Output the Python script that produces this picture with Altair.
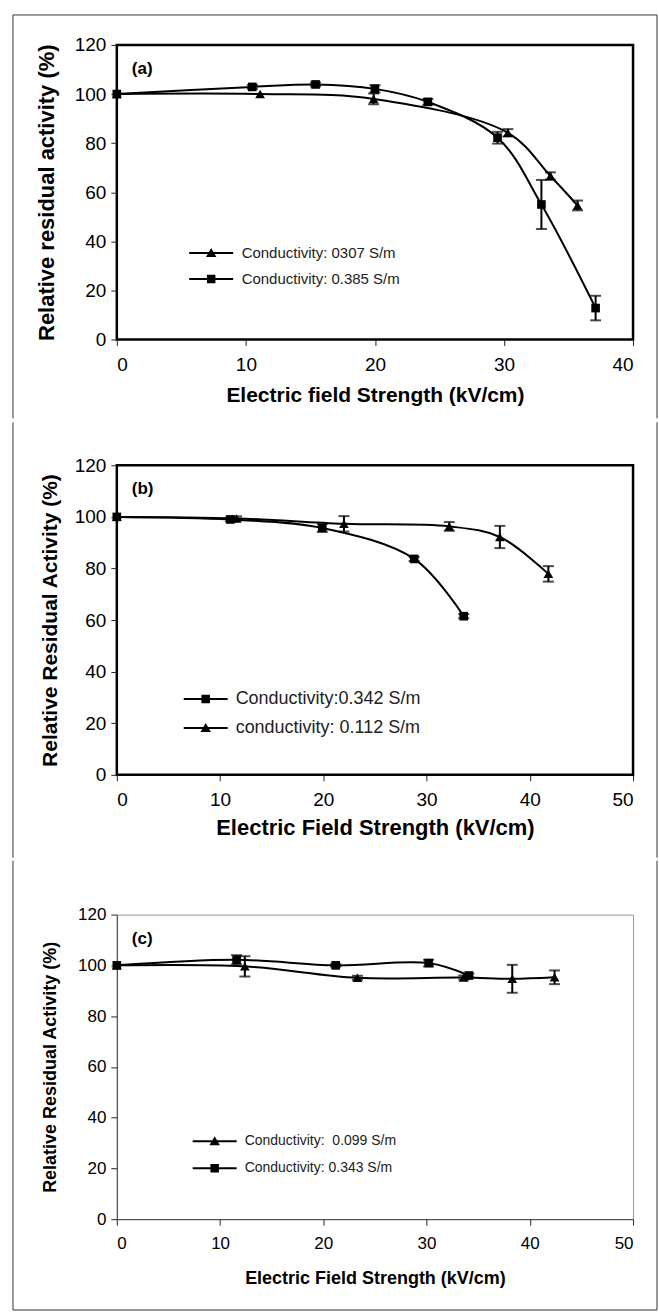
import altair as alt
import pandas as pd

FONT = "Liberation Sans"

# ---------------- data ----------------
# panel (a)
a_labels = ["Conductivity: 0307 S/m", "Conductivity: 0.385 S/m"]
a_tri_x = [0, 11.1, 19.9, 30.3, 33.6, 35.7]
a_tri_y = [100, 100, 98, 84.2, 66.6, 54.6]
a_tri_err = [0, 0, 2.2, 1.5, 1.5, 2]
a_sq_x = [0, 10.5, 15.4, 20, 24.1, 29.5, 32.9, 37.1]
a_sq_y = [100, 102.9, 103.9, 102.1, 96.8, 82.2, 55, 12.8]
a_sq_err = [0, 0.8, 0.8, 1.5, 1.2, 2.4, 10, 5]

# panel (b)
b_labels = ["Conductivity:0.342 S/m", "conductivity: 0.112 S/m"]
b_sq_x = [0, 11, 19.9, 28.8, 33.6]
b_sq_y = [100, 99, 95.7, 83.7, 61.5]
b_sq_err = [0, 0.8, 1.5, 0.8, 0.8]
b_tri_x = [0, 11.6, 22, 32.2, 37.1, 41.8]
b_tri_y = [100, 99.4, 97.3, 96.3, 92.2, 77.9]
b_tri_err = [0, 0.8, 3, 1.7, 4.3, 3]

# panel (c)
c_labels = ["Conductivity: \u00a00.099 S/m", "Conductivity: 0.343 S/m"]
c_tri_x = [0, 12.4, 23.3, 33.6, 38.3, 42.4]
c_tri_y = [100, 99.6, 95.1, 95.2, 94.7, 95.3]
c_tri_err = [0, 4, 0.8, 0.8, 5.5, 2.7]
c_sq_x = [0, 11.6, 21.2, 30.2, 34.1]
c_sq_y = [100, 102.2, 100, 100.9, 96]
c_sq_err = [0, 1.8, 0.5, 1.3, 0.8]

y_ticks = [0, 20, 40, 60, 80, 100, 120]

TRI_PATH = "M-4.4,-0.2H4.4V0.2H-4.4Z M0,-1L1.05,0.8H-1.05Z"
SQ_PATH = "M-4.4,-0.2H4.4V0.2H-4.4Z M-0.85,-0.85H0.85V0.85H-0.85Z"
VSHAPE = {"triangle-up": TRI_PATH, "square": SQ_PATH}


def mkdf(xs, ys, errs, label, shape):
    d = pd.DataFrame({"x": xs, "y": ys, "err": errs})
    d["series"] = label
    d["shape"] = shape
    d["lo"] = d["y"] - d["err"]
    d["hi"] = d["y"] + d["err"]
    return d


def panel(series, xmax, height, xtitle, ytitle, tag, lab_fs, xt_fs, yt_fs,
          x_tpad, y_tpad, x_lpad, legx, legy, leg_fs, leg_row, leg_off, frame, boxed):
    df = pd.concat([mkdf(*s) for s in series], ignore_index=True)
    labels = [s[3] for s in series]
    shapes = [s[4] for s in series]

    ax_common = dict(grid=False, domain=not boxed, domainColor="#444", domainWidth=1,
                     ticks=True, tickSize=6, tickColor="#222", tickWidth=1,
                     labelFont=FONT, labelFontSize=lab_fs, labelColor="black",
                     titleFont=FONT, titleFontWeight="bold", titleColor="black")
    xaxis = alt.Axis(values=list(range(0, xmax + 1, 10)), title=xtitle,
                     titleFontSize=xt_fs, titlePadding=x_tpad, labelPadding=x_lpad,
                     **ax_common)
    yaxis = alt.Axis(values=y_ticks, title=ytitle, titleFontSize=yt_fs,
                     titlePadding=y_tpad, labelPadding=5, **ax_common)
    xs = alt.Scale(domain=[0, xmax], nice=False)
    ys = alt.Scale(domain=[0, 120], nice=False)

    def X(f):
        return alt.X(f"{f}:Q", scale=xs, axis=xaxis)

    def Y(f):
        return alt.Y(f"{f}:Q", scale=ys, axis=yaxis)

    base = alt.Chart(df)
    layers = []
    layers.append(base.mark_line(interpolate="catmull-rom", color="black", strokeWidth=2)
                  .encode(x=X("x"), y=Y("y"), detail="series:N"))
    eb = alt.Chart(df[df["err"] > 0])
    layers.append(eb.mark_rule(color="black", strokeWidth=2)
                  .encode(x=X("x"), y=Y("lo"), y2="hi:Q"))
    for f in ["lo", "hi"]:
        layers.append(eb.mark_tick(color="black", thickness=2, size=11, orient="horizontal")
                      .encode(x=X("x"), y=Y(f)))
    for lab, shp in zip(labels, shapes):
        layers.append(base.transform_filter(alt.datum.series == lab)
                      .mark_point(shape=shp, filled=True, color="black", opacity=1,
                                  size=95 if shp == "triangle-up" else 75)
                      .encode(x=X("x"), y=Y("y")))
    # legend layer (invisible marks, visible legend)
    layers.append(base.mark_point(filled=True, color="black", opacity=0)
                  .encode(x=X("x"), y=Y("y"),
                          shape=alt.Shape("series:N",
                                          scale=alt.Scale(domain=labels,
                                                          range=[VSHAPE[s] for s in shapes]),
                                          legend=alt.Legend(orient="none", legendX=legx,
                                                            legendY=legy, title=None,
                                                            padding=0, symbolSize=100,
                                                            symbolFillColor="black",
                                                            symbolStrokeWidth=0,
                                                            symbolOpacity=1,
                                                            labelFont=FONT,
                                                            labelFontSize=leg_fs,
                                                            labelColor="#222",
                                                            labelOffset=leg_off,
                                                            labelLimit=400,
                                                            rowPadding=leg_row))))
    # panel tag
    layers.append(alt.Chart(pd.DataFrame({"t": [tag]}))
                  .mark_text(align="left", baseline="middle", font=FONT, fontWeight="bold",
                             fontSize=17, color="black")
                  .encode(text="t:N", x=alt.value(15), y=alt.value(24)))
    # outer figure frame pieces
    fl, fr, ft, fb, top_line, bottom_line = frame
    fdf = alt.Chart(pd.DataFrame({"a": [0]}))
    fmark = dict(color="#333", strokeWidth=1)
    layers.append(fdf.mark_rule(**fmark).encode(x=alt.value(fl), y=alt.value(ft), y2=alt.value(fb)))
    layers.append(fdf.mark_rule(**fmark).encode(x=alt.value(fr), y=alt.value(ft), y2=alt.value(fb)))
    if top_line:
        layers.append(fdf.mark_rule(**fmark).encode(x=alt.value(fl), x2=alt.value(fr), y=alt.value(ft)))
    if bottom_line:
        layers.append(fdf.mark_rule(**fmark).encode(x=alt.value(fl), x2=alt.value(fr), y=alt.value(fb)))

    if boxed:
        view = alt.ViewBackground(stroke="black", strokeWidth=2.5, fill="white")
    else:
        view = alt.ViewBackground(stroke="#999", strokeWidth=1, fill="white")
    return alt.layer(*layers).properties(width=517, height=height, view=view)


pa = panel([(a_tri_x, a_tri_y, a_tri_err, a_labels[0], "triangle-up"),
            (a_sq_x, a_sq_y, a_sq_err, a_labels[1], "square")],
           40, 295, "Electric field Strength (kV/cm)", "Relative residual activity (%)", "(a)",
           19, 21, 22, 10, 16, 10, 87, 201, 15, 10, 23,
           (-104, 541, -30, 374, True, False), True)

pb = panel([(b_sq_x, b_sq_y, b_sq_err, b_labels[0], "square"),
            (b_tri_x, b_tri_y, b_tri_err, b_labels[1], "triangle-up")],
           50, 310, "Electric Field Strength (kV/cm)", "Relative Residual Activity (%)", "(b)",
           19, 22, 21, 8, 14, 10, 80, 225, 18, 11, 21,
           (-104, 541, -43, 393, False, False), True)

pc = panel([(c_tri_x, c_tri_y, c_tri_err, c_labels[0], "triangle-up"),
            (c_sq_x, c_sq_y, c_sq_err, c_labels[1], "square")],
           50, 305, "Electric Field Strength (kV/cm)", "Relative Residual Activity (%)", "(c)",
           17, 18, 18, 18, 18, 10, 91, 220, 14, 13, 23,
           (-104, 541, -54, 396, False, True), False)

chart = alt.vconcat(pa, pb, pc, spacing=0).resolve_scale(
    shape="independent", x="independent", y="independent"
).resolve_legend(shape="independent").properties(
    padding={"left": 11, "top": 12, "right": 0, "bottom": 0},
    background="white",
)

chart.save("out.html", embed_options={"renderer": "svg", "actions": False})
